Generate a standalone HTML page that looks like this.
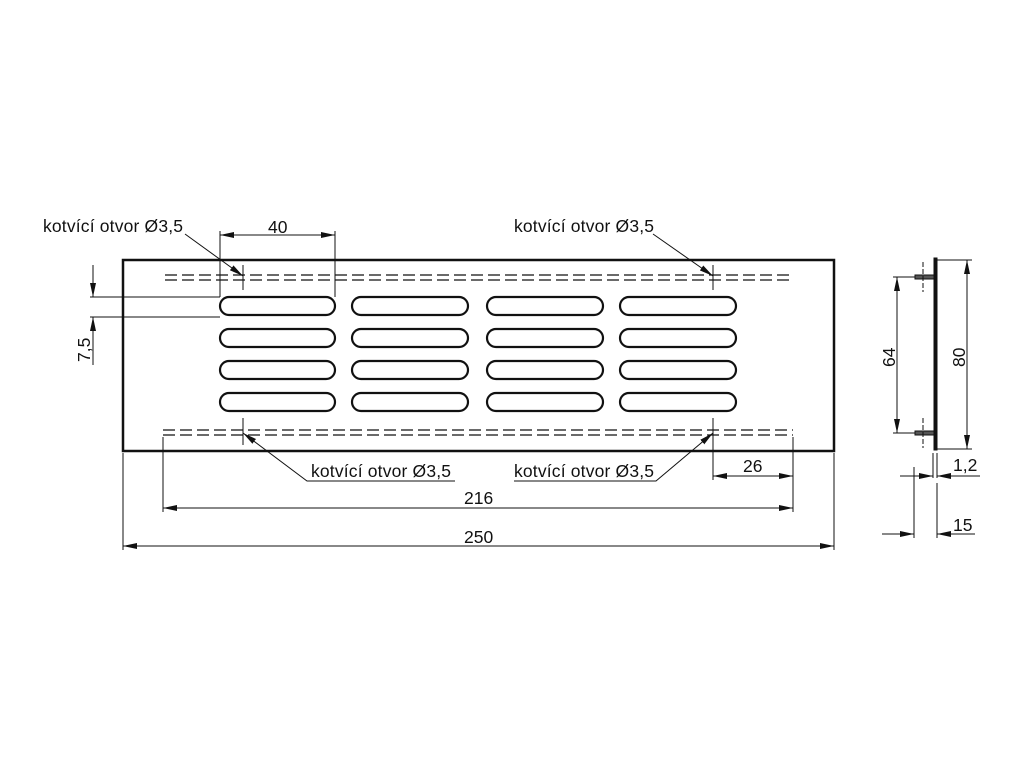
<!DOCTYPE html>
<html><head><meta charset="utf-8"><style>
html,body{margin:0;padding:0;background:#fff}
svg{display:block}
text{font-family:"Liberation Sans",sans-serif;font-size:17.5px;fill:#111}
</style></head><body>
<svg width="1024" height="768" viewBox="0 0 1024 768" xmlns="http://www.w3.org/2000/svg">
<defs>
<marker id="a" markerWidth="14" markerHeight="8" refX="14" refY="4" orient="auto-start-reverse" markerUnits="userSpaceOnUse">
<path d="M0,1 L14,4 L0,7 Z" fill="#111"/></marker>
</defs>
<g stroke="#111" fill="none">
<rect x="123" y="260" width="711" height="191" stroke-width="2.5"/>
<g stroke-width="1.3" stroke-dasharray="12,5">
<line x1="165" y1="275" x2="793" y2="275"/><line x1="165" y1="280" x2="793" y2="280"/>
<line x1="163" y1="430" x2="793" y2="430"/><line x1="163" y1="435" x2="793" y2="435"/>
</g>
<g stroke-width="2.2">
<rect x="220" y="297" width="115" height="18" rx="9"/><rect x="352" y="297" width="116" height="18" rx="9"/><rect x="487" y="297" width="116" height="18" rx="9"/><rect x="620" y="297" width="116" height="18" rx="9"/>
<rect x="220" y="329" width="115" height="18" rx="9"/><rect x="352" y="329" width="116" height="18" rx="9"/><rect x="487" y="329" width="116" height="18" rx="9"/><rect x="620" y="329" width="116" height="18" rx="9"/>
<rect x="220" y="361" width="115" height="18" rx="9"/><rect x="352" y="361" width="116" height="18" rx="9"/><rect x="487" y="361" width="116" height="18" rx="9"/><rect x="620" y="361" width="116" height="18" rx="9"/>
<rect x="220" y="393" width="115" height="18" rx="9"/><rect x="352" y="393" width="116" height="18" rx="9"/><rect x="487" y="393" width="116" height="18" rx="9"/><rect x="620" y="393" width="116" height="18" rx="9"/>
</g>
<g stroke-width="1">
<line x1="243" y1="265" x2="243" y2="290"/><line x1="713" y1="265" x2="713" y2="290"/>
<line x1="243" y1="418" x2="243" y2="445"/><line x1="713" y1="418" x2="713" y2="480"/>
<line x1="220" y1="231" x2="220" y2="297"/><line x1="335" y1="231" x2="335" y2="297"/>
<line x1="220" y1="235" x2="335" y2="235" marker-start="url(#a)" marker-end="url(#a)"/>
<line x1="185" y1="234" x2="243" y2="276" marker-end="url(#a)"/>
<line x1="653" y1="234" x2="713" y2="276" marker-end="url(#a)"/>
<polyline points="455,481 307,481 243,433" marker-end="url(#a)"/>
<polyline points="514,481 656,481 713,433" marker-end="url(#a)"/>
<line x1="90" y1="297" x2="220" y2="297"/><line x1="90" y1="317" x2="220" y2="317"/>
<line x1="93" y1="265" x2="93" y2="297" marker-end="url(#a)"/>
<line x1="93" y1="365" x2="93" y2="317" marker-end="url(#a)"/>
<line x1="793" y1="437" x2="793" y2="512"/>
<line x1="713" y1="476" x2="793" y2="476" marker-start="url(#a)" marker-end="url(#a)"/>
<line x1="163" y1="437" x2="163" y2="512"/>
<line x1="163" y1="508" x2="793" y2="508" marker-start="url(#a)" marker-end="url(#a)"/>
<line x1="123" y1="453" x2="123" y2="550"/><line x1="834" y1="453" x2="834" y2="550"/>
<line x1="123" y1="546" x2="834" y2="546" marker-start="url(#a)" marker-end="url(#a)"/>
<rect x="934" y="258" width="3" height="192" fill="#111" stroke-width="1"/>
<rect x="915" y="275" width="19" height="4" fill="#555"/><rect x="915" y="431" width="19" height="4" fill="#555"/>
<line x1="923" y1="262" x2="923" y2="292" stroke-dasharray="5,2"/><line x1="923" y1="418" x2="923" y2="448" stroke-dasharray="5,2"/>
<line x1="893" y1="277" x2="915" y2="277"/><line x1="893" y1="433" x2="915" y2="433"/>
<line x1="897" y1="277" x2="897" y2="433" marker-start="url(#a)" marker-end="url(#a)"/>
<line x1="937" y1="260" x2="972" y2="260"/><line x1="937" y1="449" x2="972" y2="449"/>
<line x1="967" y1="260" x2="967" y2="449" marker-start="url(#a)" marker-end="url(#a)"/>
<line x1="933" y1="453" x2="933" y2="478"/><line x1="937" y1="453" x2="937" y2="478"/>
<line x1="937" y1="483" x2="937" y2="538"/>
<line x1="914" y1="467" x2="914" y2="538"/>
<line x1="900" y1="476" x2="933" y2="476" marker-end="url(#a)"/>
<line x1="980" y1="476" x2="937" y2="476" marker-end="url(#a)"/>
<line x1="882" y1="534" x2="914" y2="534" marker-end="url(#a)"/>
<line x1="975" y1="534" x2="937" y2="534" marker-end="url(#a)"/>
</g>
</g>
<text x="43" y="232" textLength="140">kotvící otvor Ø3,5</text>
<text x="514" y="232" textLength="140">kotvící otvor Ø3,5</text>
<text x="311" y="477" textLength="140">kotvící otvor Ø3,5</text>
<text x="514" y="477" textLength="140">kotvící otvor Ø3,5</text>
<text x="268" y="233">40</text>
<text x="743" y="472">26</text>
<text x="464" y="504">216</text>
<text x="464" y="543">250</text>
<text x="953" y="471">1,2</text>
<text x="953" y="531">15</text>
<text transform="translate(90,362) rotate(-90)">7,5</text>
<text transform="translate(895,367) rotate(-90)">64</text>
<text transform="translate(965,367) rotate(-90)">80</text>
</svg>
</body></html>
